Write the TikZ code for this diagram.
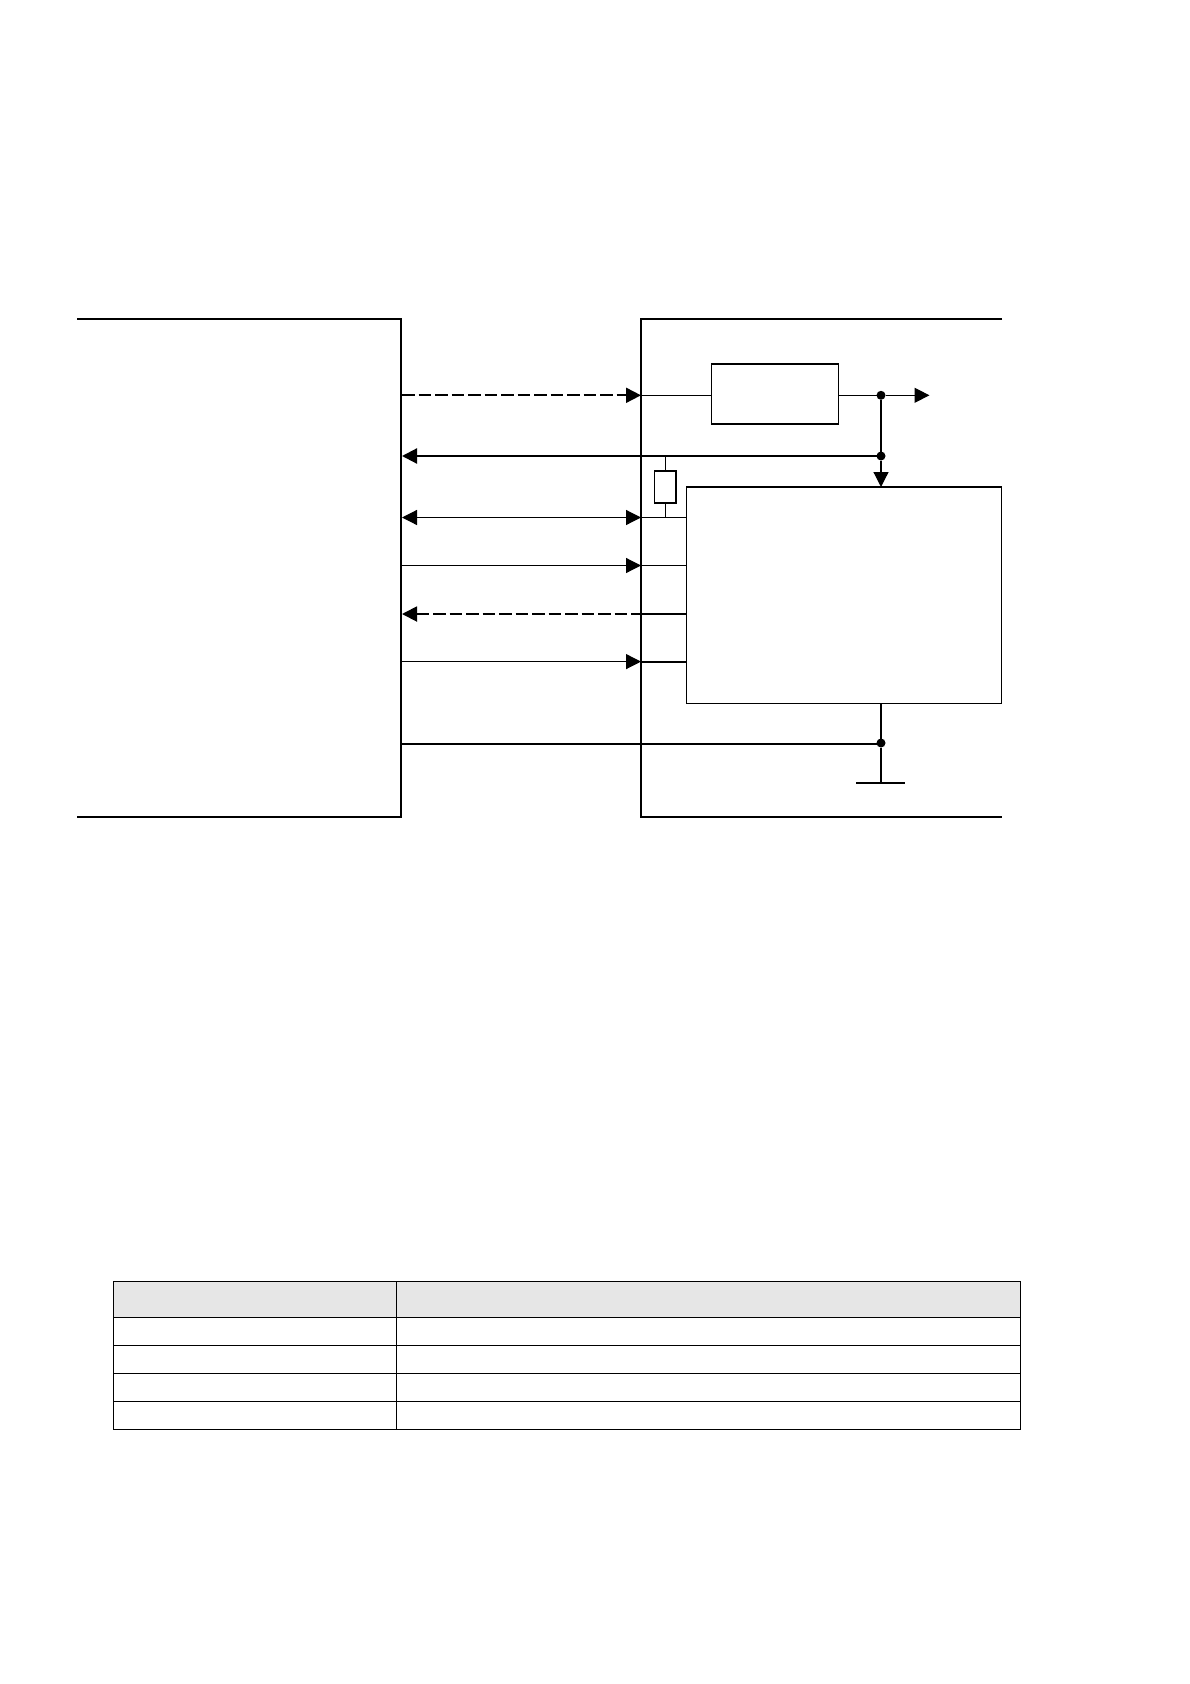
\documentclass[tikz,border=0pt]{standalone}
\usepackage{xcolor}
\usetikzlibrary{arrows.meta, positioning, calc}
\definecolor{headgray}{RGB}{230,230,230}

\begin{document}
\begin{tikzpicture}[x=1pt, y=-1pt,
  chipline/.style={line width=1.9pt, line join=miter},
  thinsig/.style={line width=1.2pt},
  thicksig/.style={line width=2.2pt},
  dashsig/.style={line width=1.9pt, dash pattern=on 12.5pt off 4pt},
  tip/.style={{Triangle[length=15pt, width=15pt]}-},
  pit/.style={-{Triangle[length=15pt, width=15pt]}},
  bothtip/.style={{Triangle[length=15pt, width=15pt]}-{Triangle[length=15pt, width=15pt]}},
  block/.style={rectangle, draw, line width=1.6pt, fill=white, inner sep=0pt, outer sep=0pt},
  dot/.style={circle, fill=black, inner sep=0pt, outer sep=0pt, minimum size=9pt},
  cell/.style={rectangle, draw, line width=1.3pt, inner sep=0pt, outer sep=0pt, minimum height=28pt},
  headcell/.style={cell, fill=headgray, minimum height=35.6pt}
]
\useasboundingbox (0,0) rectangle (1190,1684);

% the two chips
\coordinate (mtopl) at (77,319);
\coordinate (mtopr) at (401,319);
\coordinate (mbotr) at (401,817);
\coordinate (mbotl) at (77,817);
\coordinate (stopr) at (1002,319);
\coordinate (stopl) at (641,319);
\coordinate (sbotl) at (641,817);
\coordinate (sbotr) at (1002,817);
\draw[chipline] (mtopl) -- (mtopr) -- (mbotr) -- (mbotl);
\draw[chipline] (stopr) -- (stopl) -- (sbotl) -- (sbotr);

% blocks
\node[block, minimum width=127pt, minimum height=60pt] (reg) at (775,394) {};
\node[block, line width=1.4pt, minimum width=315pt, minimum height=216.5pt, anchor=north west] (core) at (686.7,487) {};
\node[block, minimum width=21.4pt, minimum height=32.3pt] (res) at (665.3,486.9) {};

% signal ends
\coordinate (m1) at (402,395.3);
\coordinate (s1) at (641,395.3);
\coordinate (m2) at (402,456);
\coordinate (m3) at (402,517.5);
\coordinate (s3) at (641,517.5);
\coordinate (m4) at (402,565.5);
\coordinate (s4) at (641,565.5);
\coordinate (m5) at (402,614);
\coordinate (s5) at (641,614);
\coordinate (m6) at (402,661.6);
\coordinate (s6) at (641,661.6);
\coordinate (m7) at (402,743.7);
\coordinate (out) at (929.5,395.3);
\coordinate (gnd) at (881,783);
\coordinate (gndl) at (856,783);
\coordinate (gndr) at (905,783);

\node[dot] (dota) at (881,395.3) {};
\node[dot] (dotb) at (881,456) {};
\node[dot] (dotc) at (881,743) {};

% lines between chips
\draw[dashsig, pit] (m1) -- (s1);
\draw[thicksig, tip] (m2) -- (dotb);
\draw[thinsig, bothtip] (m3) -- (s3);
\draw[thinsig, pit] (m4) -- (s4);
\draw[dashsig, tip] (m5) -- (s5);
\draw[thinsig, pit] (m6) -- (s6);
\draw[thicksig] (m7) -- (m7 -| dotc);

% inside the right chip
\draw[thinsig] (s1) -- (s1 -| reg.west);
\draw[thinsig] (s1 -| reg.east) -- (dota);
\draw[thinsig, pit] (dota) -- (out);
\draw[thinsig] (dota) -- (dotb);
\draw[thinsig, pit] (dotb) -- (dotb |- core.north);
\draw[thinsig] (res.north) -- (res.north |- dotb);
\draw[thinsig] (res.south) -- (res.south |- s3);
\draw[thinsig] (s3) -- (s3 -| core.west);
\draw[thinsig] (s4) -- (s4 -| core.west);
\draw[thinsig] (s5) -- (s5 -| core.west);
\draw[thicksig] (s6) -- (s6 -| core.west);
\draw[thinsig] (dotc |- core.south) -- (dotc);
\draw[thinsig] (dotc) -- (gnd);
\draw[thicksig] (gndl) -- (gndr);

% table
\node[headcell, minimum width=282.6pt, anchor=north west] (hleft) at (113.7,1281.7) {};
\node[headcell, minimum width=624pt, right=0pt of hleft] (hright) {};
\node[cell, minimum width=282.6pt, below=0pt of hleft] (aleft) {};
\node[cell, minimum width=624pt, right=0pt of aleft] (aright) {};
\node[cell, minimum width=282.6pt, below=0pt of aleft] (bleft) {};
\node[cell, minimum width=624pt, right=0pt of bleft] (bright) {};
\node[cell, minimum width=282.6pt, below=0pt of bleft] (cleft) {};
\node[cell, minimum width=624pt, right=0pt of cleft] (cright) {};
\node[cell, minimum width=282.6pt, below=0pt of cleft] (dleft) {};
\node[cell, minimum width=624pt, right=0pt of dleft] (dright) {};
\end{tikzpicture}
\end{document}
